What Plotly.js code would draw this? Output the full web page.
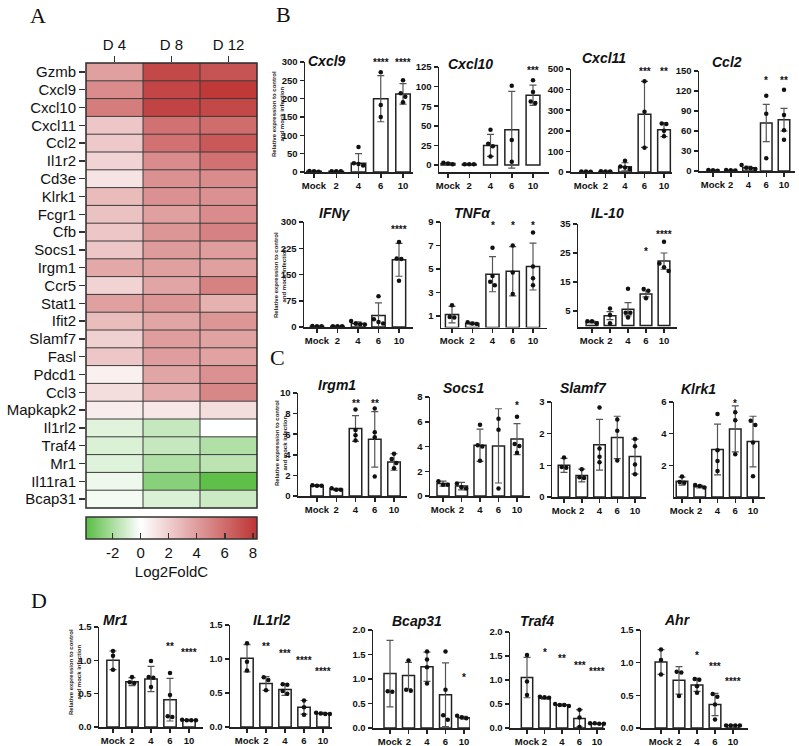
<!DOCTYPE html>
<html><head><meta charset="utf-8">
<script src="https://cdn.plot.ly/plotly-3.0.1.min.js"></script>
<style>html,body{margin:0;padding:0;background:#fff}</style>
</head><body><div id="chart" style="width:799px;height:746px"></div>
<script>
const W = 799, H = 746;
const FONT = 'Liberation Sans, Arial, sans-serif';
const TFONT = 'Liberation Sans Narrow, Liberation Sans, Arial, sans-serif';

// ---------- Panel A heatmap data ----------
const heatGenes = ['Gzmb','Cxcl9','Cxcl10','Cxcl11','Ccl2','Il1r2','Cd3e','Klrk1','Fcgr1','Cfb','Socs1','Irgm1','Ccr5','Stat1','Ifit2','Slamf7','Fasl','Pdcd1','Ccl3','Mapkapk2','Il1rl2','Traf4','Mr1','Il11ra1','Bcap31'];
const heatDays = ['D 4','D 8','D 12'];
const heatD4  = [3.9, 4.7, 5.3, 2.3, 2.2, 1.8, 1.1, 2.8, 2.5, 2.3, 2.3, 3.5, 1.8, 3.9, 2.7, 1.9, 2.3, 0.6, 1.4, 0.8, -0.7, -0.85, -0.75, -0.4, -0.25];
const heatD8  = [7.5, 7.6, 7.7, 5.8, 5.8, 4.7, 4.5, 4.5, 3.9, 4.3, 4.1, 3.9, 3.7, 4.3, 3.7, 4.0, 4.0, 3.7, 3.4, 1.0, -1.35, -1.35, -1.85, -2.8, -0.85];
const heatD12 = [7.0, 8.1, 7.5, 6.0, 6.8, 5.8, 4.7, 4.5, 4.7, 5.1, 4.0, 3.9, 5.1, 3.2, 4.3, 3.8, 3.8, 4.5, 4.9, 1.4, 0.0, -1.85, -1.6, -3.8, -1.2];
const heatTicks = [-2, 0, 2, 4, 6, 8];
const heatTickText = ['-2', '0', '2', '4', '6', '8'];

// ---------- Bar chart data ----------
const groups = ['Mock','2','4','6','10'];

const cxcl9Mean = [2, 2, 24, 200, 213];
const cxcl9Sd   = [1, 1, 26, 63, 28];
const cxcl9Pts  = [[3,2,1],[2,2,2],[68,24,22,18],[272,183,150],[250,215,205,190]];
const cxcl9Stars = ['','','','****','****'];

const cxcl10Mean = [2, 1, 25, 45, 89];
const cxcl10Sd   = [1, 0.5, 14, 49, 13];
const cxcl10Pts  = [[3,2,1],[1,1,1],[45,27,24,11],[101,32,4],[108,93,81,79]];
const cxcl10Stars = ['','','','','***'];

const cxcl11Mean = [2, 3, 25, 280, 205];
const cxcl11Sd   = [1, 1, 20, 160, 33];
const cxcl11Pts  = [[3,2,1],[4,3,2],[55,27,22,15],[440,292,118],[236,233,200,173]];
const cxcl11Stars = ['','','','***','**'];

const ccl2Mean = [1, 1, 5, 72, 77];
const ccl2Sd   = [0.5, 0.5, 2, 28, 17];
const ccl2Pts  = [[1.5,1,0.5],[1.5,1,0.8],[9,5,4,3],[113,86,19],[122,84,61,47]];
const ccl2Stars = ['','','','*','**'];

const ifngMean = [2, 2, 10, 33, 192];
const ifngSd   = [1, 1, 5, 36, 47];
const ifngPts  = [[3,2,2],[2,2,2],[17,10,8,7],[88,22,14,10],[243,196,194,132]];
const ifngStars = ['','','','','****'];

const tnfaMean = [1.1, 0.35, 4.55, 4.8, 5.2];
const tnfaSd   = [0.7, 0.1, 1.5, 2.1, 2.0];
const tnfaPts  = [[1.9,0.9,0.85],[0.45,0.35,0.3],[6.8,4.4,3.9,3.6],[7.0,4.7,2.85],[8.1,5.2,4.2,3.6]];
const tnfaStars = ['','','*','*','*'];

const il10Mean = [1.2, 3.4, 5.6, 10.9, 22.2];
const il10Sd   = [0.3, 1.4, 2.3, 1.0, 2.8];
const il10Pts  = [[0.8,1.5,1.5],[5.9,3.6,0.8],[12.7,4.4,4.4,2.8],[12.6,12.0,9.4],[28.9,21.4,20.1,18.8]];
const il10Stars = ['','','','*','****'];

const irgm1Mean = [1.0, 0.65, 6.55, 5.5, 3.3];
const irgm1Sd   = [0.08, 0.1, 1.25, 2.7, 0.8];
const irgm1Pts  = [[1.05,1.0,1.0],[0.75,0.6,0.6],[8.4,6.4,5.9,5.4],[8.5,6.2,5.7,1.9],[4.1,3.6,3.2,2.7]];
const irgm1Stars = ['','','**','**',''];

const socs1Mean = [1.0, 0.8, 4.1, 4.05, 4.6];
const socs1Sd   = [0.2, 0.3, 1.3, 3.0, 1.25];
const socs1Pts  = [[1.2,0.9,0.9],[1.0,0.7,0.6],[5.75,4.1,4.0,2.85],[6.25,5.35,0.6],[6.4,4.2,4.05,3.5]];
const socs1Stars = ['','','','','*'];

const slamf7Mean = [1.0, 0.68, 1.65, 1.88, 1.28];
const slamf7Sd   = [0.22, 0.2, 0.8, 0.67, 0.55];
const slamf7Pts  = [[1.25,0.95,0.92],[0.88,0.6,0.62],[2.83,1.53,1.27,1.1],[2.45,2.09,1.15],[1.83,1.6,1.03,0.72]];
const slamf7Stars = ['','','','',''];

const klrk1Mean = [1.0, 0.65, 3.0, 4.3, 3.5];
const klrk1Sd   = [0.25, 0.08, 1.6, 1.45, 1.6];
const klrk1Pts  = [[1.3,0.95,0.9],[0.75,0.7,0.6],[5.24,2.96,2.28,1.65],[5.35,4.85,2.7],[4.82,4.54,3.44,1.31]];
const klrk1Stars = ['','','','*',''];

const mr1Mean = [1.0, 0.68, 0.72, 0.41, 0.1];
const mr1Sd   = [0.14, 0.06, 0.19, 0.32, 0.01];
const mr1Pts  = [[1.14,1.07,0.86],[0.75,0.67,0.66],[0.99,0.75,0.74,0.6],[0.81,0.48,0.16,0.15],[0.11,0.1,0.1,0.1]];
const mr1Stars = ['','','','**','****'];

const il1rl2Mean = [1.01, 0.64, 0.55, 0.29, 0.2];
const il1rl2Sd   = [0.2, 0.1, 0.085, 0.1, 0.015];
const il1rl2Pts  = [[1.23,0.96,0.83],[0.73,0.69,0.54],[0.63,0.62,0.53,0.49],[0.39,0.29,0.18],[0.21,0.2,0.19,0.19]];
const il1rl2Stars = ['','**','***','****','****'];

const bcap31Mean = [1.11, 1.07, 1.25, 0.68, 0.21];
const bcap31Sd   = [0.68, 0.27, 0.3, 0.65, 0.03];
const bcap31Pts  = [[0.75,0.74],[1.38,0.78,0.76],[1.56,1.4,1.24,0.91],[1.56,0.78,0.26,0.17],[0.25,0.22,0.2,0.15]];
const bcap31Stars = ['','','','','*'];

const traf4Mean = [1.05, 0.62, 0.48, 0.2, 0.09];
const traf4Sd   = [0.42, 0.02, 0.02, 0.18, 0.01];
const traf4Pts  = [[1.52,0.97,0.69],[0.65,0.64,0.63],[0.5,0.48,0.48,0.46],[0.38,0.22,0.02],[0.1,0.1,0.09,0.09]];
const traf4Stars = ['','*','**','***','****'];

const ahrMean = [1.01, 0.73, 0.66, 0.36, 0.04];
const ahrSd   = [0.19, 0.21, 0.1, 0.17, 0.005];
const ahrPts  = [[1.2,1.04,0.82],[0.86,0.85,0.49],[0.75,0.74,0.64,0.54],[0.52,0.48,0.36,0.13],[0.04,0.04,0.04,0.04]];
const ahrStars = ['','','*','***','****'];

// ---------- Layout config (pixel geometry) ----------
const charts = [
 {title:'Cxcl9', mean:cxcl9Mean, sd:cxcl9Sd, pts:cxcl9Pts, stars:cxcl9Stars, ax:305, end:413, c0:314, c4:403, topPx:62, topVal:300, zeroPx:172, basePx:172, ticks:[0,50,100,150,200,250,300], dec:0, tx:327, ty:61, starPx:[60,60,60,60,60], ylab:[278,114]},
 {title:'Cxcl10', mean:cxcl10Mean, sd:cxcl10Sd, pts:cxcl10Pts, stars:cxcl10Stars, ax:439, end:549, c0:448, c4:533, topPx:67, topVal:125, zeroPx:165, basePx:172, ticks:[0,25,50,75,100,125], dec:0, tx:470, ty:64, starPx:[68,68,68,68,68]},
 {title:'Cxcl11', mean:cxcl11Mean, sd:cxcl11Sd, pts:cxcl11Pts, stars:cxcl11Stars, ax:571, end:672, c0:586, c4:664, topPx:69, topVal:500, zeroPx:172, basePx:172, ticks:[0,100,200,300,400,500], dec:0, tx:604, ty:58, starPx:[69,69,69,69,69]},
 {title:'Ccl2', mean:ccl2Mean, sd:ccl2Sd, pts:ccl2Pts, stars:ccl2Stars, ax:699, end:795, c0:713, c4:784, topPx:71, topVal:150, zeroPx:171, basePx:171, ticks:[0,30,60,90,120,150], dec:0, tx:727, ty:62, starPx:[78,78,78,78,78]},
 {title:'IFN\u03b3', mean:ifngMean, sd:ifngSd, pts:ifngPts, stars:ifngStars, ax:304, end:413, c0:317, c4:399, topPx:222, topVal:300, zeroPx:327, basePx:327, ticks:[0,75,150,225,300], dec:0, tx:335, ty:213, starPx:[226,226,226,226,226], ylab:[280,275]},
 {title:'TNF\u03b1', mean:tnfaMean, sd:tnfaSd, pts:tnfaPts, stars:tnfaStars, ax:441, end:547, c0:452, c4:533, topPx:222, topVal:9, zeroPx:327.5, basePx:327.5, ticks:[1,3,5,7,9], dec:0, tx:472, ty:213, starPx:[223,223,223,223,223]},
 {title:'IL-10', mean:il10Mean, sd:il10Sd, pts:il10Pts, stars:il10Stars, ax:578, end:677, c0:592, c4:664, topPx:224, topVal:35, zeroPx:325.5, basePx:327, ticks:[5,15,25,35], dec:0, tx:607, ty:213, starPx:[248,248,248,248,231]},
 {title:'Irgm1', mean:irgm1Mean, sd:irgm1Sd, pts:irgm1Pts, stars:irgm1Stars, ax:298, end:407, c0:317, c4:394, topPx:393, topVal:10, zeroPx:496, basePx:496, ticks:[0,2,4,6,8,10], dec:0, tx:337, ty:385, starPx:[400,400,400,400,400], ylab:[281,443]},
 {title:'Socs1', mean:socs1Mean, sd:socs1Sd, pts:socs1Pts, stars:socs1Stars, ax:430, end:530, c0:443, c4:517, topPx:397, topVal:8, zeroPx:496, basePx:496, ticks:[0,2,4,6,8], dec:0, tx:463, ty:388, starPx:[402,402,402,402,402]},
 {title:'Slamf7', mean:slamf7Mean, sd:slamf7Sd, pts:slamf7Pts, stars:slamf7Stars, ax:552, end:646, c0:564, c4:635, topPx:402, topVal:3, zeroPx:497, basePx:497, ticks:[0,1,2,3], dec:0, tx:583, ty:388, starPx:[400,400,400,400,400]},
 {title:'Klrk1', mean:klrk1Mean, sd:klrk1Sd, pts:klrk1Pts, stars:klrk1Stars, ax:674, end:765, c0:682, c4:753, topPx:402, topVal:6, zeroPx:497, basePx:497, ticks:[2,4,6], dec:0, tx:698, ty:389, starPx:[400,400,400,400,400]},
 {title:'Mr1', mean:mr1Mean, sd:mr1Sd, pts:mr1Pts, stars:mr1Stars, ax:99, end:203, c0:113, c4:189, topPx:627, topVal:1.5, zeroPx:727, basePx:727, ticks:[0,0.5,1,1.5], dec:1, tx:115, ty:620, starPx:[643,643,643,643,649], ylab:[75,672]},
 {title:'IL1rl2', mean:il1rl2Mean, sd:il1rl2Sd, pts:il1rl2Pts, stars:il1rl2Stars, ax:230, end:332, c0:247, c4:323, topPx:625, topVal:1.5, zeroPx:727, basePx:727, ticks:[0,0.5,1,1.5], dec:1, tx:272, ty:620, starPx:[643,643,650,657,668]},
 {title:'Bcap31', mean:bcap31Mean, sd:bcap31Sd, pts:bcap31Pts, stars:bcap31Stars, ax:373, end:470, c0:390, c4:464, topPx:630, topVal:2, zeroPx:728, basePx:728, ticks:[0,0.5,1,1.5,2], dec:1, tx:417, ty:621, starPx:[674,674,674,674,674]},
 {title:'Traf4', mean:traf4Mean, sd:traf4Sd, pts:traf4Pts, stars:traf4Stars, ax:510, end:605, c0:527, c4:597, topPx:632, topVal:2, zeroPx:728, basePx:728, ticks:[0,0.5,1,1.5,2], dec:1, tx:537, ty:621, starPx:[649,649,655,662,668]},
 {title:'Ahr', mean:ahrMean, sd:ahrSd, pts:ahrPts, stars:ahrStars, ax:641, end:748, c0:661, c4:733, topPx:630, topVal:1.5, zeroPx:728, basePx:728, ticks:[0,0.5,1,1.5], dec:1, tx:677, ty:620, starPx:[652,652,652,663,678]}
];

const data = [], annotations = [], shapes = [];
const layout = {
  width: W, height: H, margin: {l:0, r:0, t:0, b:0},
  paper_bgcolor: '#ffffff', plot_bgcolor: 'rgba(0,0,0,0)',
  showlegend: false, font: {family: FONT, color: '#111'},
  annotations, shapes
};

// ---------- Heatmap ----------
data.push({
  type: 'heatmap', x: heatDays, y: heatGenes,
  z: heatGenes.map((g, i) => [heatD4[i], heatD8[i], heatD12[i]]),
  xaxis: 'x', yaxis: 'y', zmin: -3.9, zmax: 8.3,
  colorscale: [[0, 'rgb(90,189,68)'], [0.32, 'rgb(255,255,255)'], [1, 'rgb(189,52,52)']],
  hoverinfo: 'skip',
  colorbar: {
    orientation: 'h', x: (86 + 257) / 2 / W, xanchor: 'center', y: 1 - 517 / H, yanchor: 'top',
    len: 171, lenmode: 'pixels', thickness: 22, thicknessmode: 'pixels',
    xpad: 0, ypad: 0, outlinewidth: 1.5, outlinecolor: '#333',
    tickvals: heatTicks, ticktext: heatTickText, ticks: 'inside', ticklen: 6, tickcolor: '#333', tickwidth: 1.5,
    tickfont: {size: 15, color: '#111'},
    title: {text: 'Log2FoldC', side: 'bottom', font: {size: 15, color: '#111'}}
  }
});
layout.xaxis = {domain: [86 / W, 257 / W], anchor: 'y', side: 'top', ticks: 'outside', ticklen: 6, tickwidth: 1.5, tickcolor: '#333',
  tickmode: 'array', tickvals: heatDays, ticktext: heatDays,
  tickfont: {size: 15, color: '#111'}, showgrid: false, zeroline: false, fixedrange: true};
layout.yaxis = {domain: [1 - 508 / H, 1 - 63 / H], anchor: 'x', autorange: 'reversed', ticks: 'outside', ticklen: 6, tickwidth: 1.5, tickcolor: '#333',
  tickmode: 'array', tickvals: heatGenes, ticktext: heatGenes,
  tickfont: {size: 15, color: '#111'}, showgrid: false, zeroline: false, fixedrange: true};
for (let i = 1; i < heatGenes.length; i++) {
  shapes.push({type: 'line', xref: 'x domain', yref: 'y domain', x0: 0, x1: 1, y0: i / heatGenes.length, y1: i / heatGenes.length, line: {color: '#3a3a3a', width: 1}});
}
for (let j = 1; j < heatDays.length; j++) {
  shapes.push({type: 'line', xref: 'x domain', yref: 'y domain', x0: j / heatDays.length, x1: j / heatDays.length, y0: 0, y1: 1, line: {color: '#3a3a3a', width: 1}});
}
shapes.push({type: 'rect', xref: 'x domain', yref: 'y domain', x0: 0, x1: 1, y0: 0, y1: 1, line: {color: '#2a2a2a', width: 1.5}});

// ---------- Bar charts ----------
charts.forEach((c, k) => {
  const n = k + 2;
  const xa = 'x' + n, ya = 'y' + n;
  const s = (c.c4 - c.c0) / 4;
  const ppu = (c.zeroPx - c.topPx) / c.topVal;
  const xr = [(c.ax - c.c0) / s, (c.end - c.c0) / s];
  const yr = [-(c.basePx - c.zeroPx) / ppu, c.topVal];
  layout['xaxis' + n] = {domain: [c.ax / W, c.end / W], range: xr, anchor: ya, tickvals: [0,1,2,3,4], ticktext: groups,
    showline: true, linecolor: '#222', linewidth: 1.5, ticks: 'outside', ticklen: 4, tickwidth: 1.5, tickcolor: '#222',
    tickfont: {family: FONT, size: 9.5, color: '#111', weight: 'bold'}, showgrid: false, zeroline: false, fixedrange: true};
  layout['yaxis' + n] = {domain: [1 - c.basePx / H, 1 - c.topPx / H], range: yr, anchor: xa, tickvals: c.ticks,
    ticktext: c.ticks.map(v => v.toFixed(c.dec)),
    showline: true, linecolor: '#222', linewidth: 1.5, ticks: 'outside', ticklen: 4, tickwidth: 1.5, tickcolor: '#222',
    tickfont: {family: FONT, size: 9.5, color: '#111', weight: 'bold'}, showgrid: false, zeroline: false, fixedrange: true};
  data.push({type: 'bar', x: [0,1,2,3,4], y: c.mean, width: 0.65, xaxis: xa, yaxis: ya, cliponaxis: false, hoverinfo: 'skip',
    marker: {color: '#ffffff', line: {color: '#222', width: 1.5}},
    error_y: {type: 'data', array: c.sd, visible: true, color: '#555', thickness: 1.2, width: 3.5}});
  const px = [], py = [];
  c.pts.forEach((arr, gi) => {
    const sorted = arr.slice().sort((a, b) => b - a);
    const clusters = [];
    sorted.forEach(v => {
      const last = clusters[clusters.length - 1];
      if (last && Math.abs(last[last.length - 1] - v) * ppu < 4.5) last.push(v); else clusters.push([v]);
    });
    clusters.forEach(cl => cl.forEach((v, j) => { px.push(gi + (j - (cl.length - 1) / 2) * 4.6 / s); py.push(v); }));
  });
  data.push({type: 'scatter', mode: 'markers', x: px, y: py, xaxis: xa, yaxis: ya, cliponaxis: false, hoverinfo: 'skip',
    marker: {color: '#111', size: 4.5}});
  annotations.push({text: '<b><i>' + c.title + '</i></b>', xref: 'paper', yref: 'paper', x: c.tx / W, y: 1 - c.ty / H,
    showarrow: false, xanchor: 'center', yanchor: 'middle', font: {family: TFONT, size: 14, color: '#111'}});
  c.stars.forEach((st, gi) => {
    if (st) annotations.push({text: '<b>' + st + '</b>', xref: xa, yref: 'paper', x: gi, y: 1 - (c.starPx[gi] + 3) / H,
      showarrow: false, xanchor: 'center', yanchor: 'middle', font: {family: FONT, size: 10, color: '#111'}});
  });
  if (c.ylab) annotations.push({text: '<b>Relative expression to control<br>and mock infection</b>', xref: 'paper', yref: 'paper',
    x: c.ylab[0] / W, y: 1 - c.ylab[1] / H, textangle: -90, showarrow: false, xanchor: 'center', yanchor: 'middle',
    font: {family: FONT, size: 6, color: '#222'}});
});

// panel letters
[['A', 38, 15], ['B', 283, 14], ['C', 277, 357], ['D', 39, 600]].forEach(p => {
  annotations.push({text: p[0], xref: 'paper', yref: 'paper', x: p[1] / W, y: 1 - p[2] / H, showarrow: false,
    xanchor: 'center', yanchor: 'middle', font: {family: 'Liberation Serif, Times New Roman, serif', size: 22, color: '#111'}});
});

Plotly.newPlot('chart', data, layout, {staticPlot: true, displayModeBar: false});
</script></body></html>
